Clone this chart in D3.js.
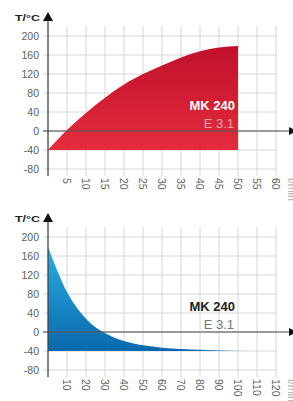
<!DOCTYPE html>
<html lang="en">
<head>
    <meta charset="UTF-8">
    <title>MK 240 - E 3.1</title>
    <style>
        body {
            margin: 0;
            background: #fff;
            font-family: "Liberation Sans", Arial, sans-serif;
        }
        .grid line {
            stroke: #d6d6d6;
            stroke-width: 1px;
        }
        .ylabel, .xlabel {
            font-size: 10.5px;
            fill: #5e5e5e;
        }
    </style>
</head>
<body>
<svg id="chart" width="293" height="401"></svg>

<script src="https://d3js.org/d3.v7.min.js"></script>
<script>
// Heizen (oben): Zeit in min, Temperatur in °C
const heatTime = [0, 5, 10, 15, 20, 25, 30, 35, 40, 45, 50];
const heatTemp = [-40, 2, 38, 70, 98, 120, 138, 155, 168, 176, 179];

// Kühlen (unten)
const coolTime = [0, 5, 10, 15, 20, 25, 30, 35, 40, 45, 50, 60, 70, 80, 90, 100, 105];
const coolTemp = [180, 128, 84, 52, 28, 10, -2, -12, -19, -24, -28, -33, -36, -37.5, -38.5, -39.5, -40];

const yTicks = [200, 160, 120, 80, 40, 0, -40, -80];
const heatXTicks = [5, 10, 15, 20, 25, 30, 35, 40, 45, 50, 55, 60];
const coolXTicks = [10, 20, 30, 40, 50, 60, 70, 80, 90, 100, 110, 120];

const svg = d3.select('#chart');
const defs = svg.append('defs');

// Verläufe für die Flächen
const redGrad = defs.append('linearGradient')
    .attr('id', 'redGrad').attr('x1', 0).attr('y1', 0).attr('x2', 0).attr('y2', 1);
redGrad.append('stop').attr('offset', '0%').attr('stop-color', '#c0102c');
redGrad.append('stop').attr('offset', '100%').attr('stop-color', '#e42c3c');

const blueGrad = defs.append('linearGradient')
    .attr('id', 'blueGrad').attr('x1', 0).attr('y1', 0).attr('x2', 0).attr('y2', 1);
blueGrad.append('stop').attr('offset', '0%').attr('stop-color', '#2aaee3');
blueGrad.append('stop').attr('offset', '100%').attr('stop-color', '#0a68ad');

const fadeGrad = defs.append('linearGradient')
    .attr('id', 'fadeGrad').attr('x1', 0).attr('y1', 0).attr('x2', 1).attr('y2', 0);
fadeGrad.append('stop').attr('offset', '0%').attr('stop-color', '#fff').attr('stop-opacity', 1);
fadeGrad.append('stop').attr('offset', '75%').attr('stop-color', '#fff').attr('stop-opacity', 1);
fadeGrad.append('stop').attr('offset', '100%').attr('stop-color', '#fff').attr('stop-opacity', 0.25);
defs.append('mask').attr('id', 'fadeMask')
    .attr('maskContentUnits', 'objectBoundingBox')
    .append('rect').attr('width', 1).attr('height', 1).attr('fill', 'url(#fadeGrad)');

function drawChart(cfg) {
    const g = svg.append('g').attr('transform', `translate(0,${cfg.offset})`);

    const x = d3.scaleLinear().domain([0, cfg.xMax]).range([48, 276]);
    const y = d3.scaleLinear().domain([-80, 200]).range([169, 36]);

    // Gitter
    const grid = g.append('g').attr('class', 'grid');
    grid.selectAll('.h').data(yTicks).enter().append('line')
        .attr('x1', 43).attr('x2', 277)
        .attr('y1', d => y(d)).attr('y2', d => y(d));
    grid.selectAll('.v').data(cfg.xTicks).enter().append('line')
        .attr('x1', d => x(d)).attr('x2', d => x(d))
        .attr('y1', 26).attr('y2', 176);

    // Fläche
    const area = d3.area()
        .x(d => x(d[0]))
        .y0(y(-40))
        .y1(d => y(d[1]))
        .curve(d3.curveMonotoneX);
    const path = g.append('path')
        .datum(d3.zip(cfg.time, cfg.temp))
        .attr('d', area)
        .attr('fill', cfg.fill);
    if (cfg.mask) path.attr('mask', cfg.mask);

    // Nulllinie mit Pfeil
    g.append('line')
        .attr('x1', 43).attr('x2', 290)
        .attr('y1', y(0)).attr('y2', y(0))
        .attr('stroke', '#5a5a5a').attr('stroke-opacity', 0.75).attr('stroke-width', 1.6);
    g.append('path')
        .attr('d', `M289,${y(0) - 4}L297,${y(0)}L289,${y(0) + 4}Z`)
        .attr('fill', '#111');

    // Y-Achse
    g.append('line')
        .attr('x1', 48).attr('x2', 48).attr('y1', 20).attr('y2', 176)
        .attr('stroke', '#444').attr('stroke-width', 1.3);
    g.append('path').attr('d', 'M48,12L53,21L43,21Z').attr('fill', '#111');
    g.append('text')
        .attr('x', 15).attr('y', 21)
        .attr('font-size', 9).attr('font-weight', 'bold').attr('fill', '#222')
        .attr('textLength', 25).attr('lengthAdjust', 'spacingAndGlyphs')
        .text('T/°C');

    g.selectAll('.ylabel').data(yTicks).enter().append('text')
        .attr('class', 'ylabel')
        .attr('x', 39).attr('y', d => y(d)).attr('dy', '0.35em')
        .attr('text-anchor', 'end')
        .text(d => d);

    g.selectAll('.xlabel').data(cfg.xTicks).enter().append('text')
        .attr('class', 'xlabel')
        .attr('transform', d => `translate(${x(d)},178) rotate(90)`)
        .attr('dy', '0.35em')
        .text(d => d);
    g.append('text')
        .attr('class', 'xlabel')
        .attr('transform', 'translate(292,178) rotate(90)')
        .attr('dy', '0.35em').style('fill', '#aaa')
        .text('t/min');

    // Bezeichnung
    g.append('text')
        .attr('x', 235).attr('y', 110).attr('text-anchor', 'end')
        .attr('font-size', 13).attr('font-weight', 'bold').attr('fill', cfg.nameColor)
        .text('MK 240');
    g.append('text')
        .attr('x', 234).attr('y', 128).attr('text-anchor', 'end')
        .attr('font-size', 13).attr('fill', cfg.subColor)
        .text('E 3.1');
}

drawChart({offset: 0, xMax: 60, xTicks: heatXTicks, time: heatTime, temp: heatTemp,
    fill: 'url(#redGrad)', nameColor: '#fff', subColor: '#f6a5ad'});
drawChart({offset: 201, xMax: 120, xTicks: coolXTicks, time: coolTime, temp: coolTemp,
    fill: 'url(#blueGrad)', mask: 'url(#fadeMask)', nameColor: '#222', subColor: '#777'});
</script>
</body>
</html>
